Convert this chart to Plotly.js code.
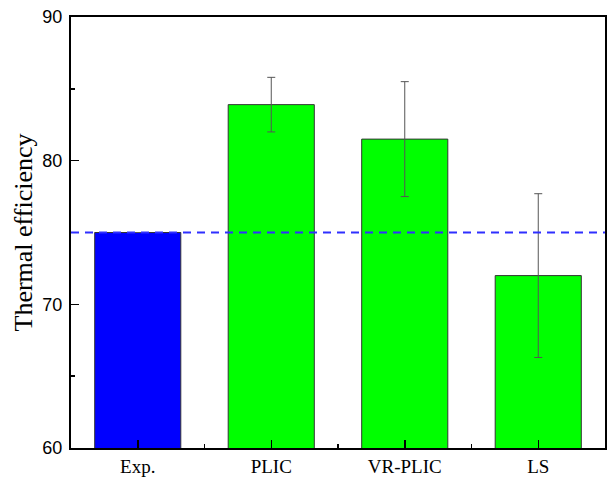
<!DOCTYPE html>
<html>
<head>
<meta charset="utf-8">
<script src="https://cdn.plot.ly/plotly-3.0.1.min.js"></script>
<style>
  html, body { margin: 0; padding: 0; background: #fff; }
  #chart { width: 607px; height: 480px; }
</style>
</head>
<body>
<div id="chart"></div>
<script>
// Thermal efficiency per method, with error ranges
const categories = ['Exp.', 'PLIC', 'VR-PLIC', 'LS'];
const efficiency = [75.0, 83.9, 81.5, 72.0];
const errorRange = [0, 1.9, 4.0, 5.7];
const barColors = ['#0000ff', '#00ff00', '#00ff00', '#00ff00'];
const yTickLabels = ['60', '70', '80', '90'];

const positions = categories.map((_, i) => i);
const hasError = errorRange.map(e => e > 0);

const bars = {
  type: 'bar',
  x: positions,
  y: efficiency,
  width: 0.645,
  marker: { color: barColors, line: { color: '#333333', width: 1 } },
  error_y: {
    type: 'data',
    array: errorRange.map((e, i) => hasError[i] ? e : null),
    visible: true,
    color: '#555555',
    thickness: 1,
    width: 4
  },
  hoverinfo: 'x+y'
};

const layout = {
  width: 607,
  height: 480,
  margin: { l: 71, r: 2, t: 17, b: 32 },
  paper_bgcolor: '#ffffff',
  plot_bgcolor: '#ffffff',
  showlegend: false,
  xaxis: {
    type: 'linear',
    range: [-0.5, 3.5],
    tickmode: 'array',
    tickvals: positions,
    ticktext: categories,
    ticks: 'inside',
    ticklen: 8,
    tickwidth: 1.5,
    tickcolor: '#000',
    showgrid: false,
    zeroline: false,
    showline: true,
    linecolor: '#000',
    linewidth: 2,
    mirror: true,
    tickfont: { family: 'Liberation Serif, Times New Roman, serif', size: 19, color: '#000' },
    minor: {
      tickmode: 'array',
      tickvals: positions.slice(1).map(p => p - 0.5),
      ticks: 'inside',
      ticklen: 4,
      tickwidth: 1.5,
      tickcolor: '#000',
      showgrid: false
    }
  },
  yaxis: {
    range: [60, 90],
    tickmode: 'array',
    tickvals: yTickLabels.map(Number),
    ticktext: yTickLabels,
    ticks: 'inside',
    ticklen: 8,
    tickwidth: 1.5,
    tickcolor: '#000',
    ticklabelstandoff: 3,
    showgrid: false,
    zeroline: false,
    showline: true,
    linecolor: '#000',
    linewidth: 2,
    mirror: true,
    tickfont: { family: 'Liberation Sans, Arial, sans-serif', size: 18, color: '#000' },
    minor: {
      dtick: 5,
      tick0: 60,
      ticks: 'inside',
      ticklen: 4,
      tickwidth: 1.5,
      tickcolor: '#000',
      showgrid: false
    },
    title: {
      text: 'Thermal efficiency',
      font: { family: 'Liberation Serif, Times New Roman, serif', size: 26, color: '#000' },
      standoff: 2
    }
  },
  shapes: [{
    type: 'line',
    xref: 'paper',
    yref: 'y',
    x0: 0,
    x1: 1,
    y0: efficiency[0],
    y1: efficiency[0],
    line: { color: '#2f2fff', width: 2, dash: '8px,6px' },
    layer: 'above'
  }]
};

Plotly.newPlot('chart', [bars], layout, { displayModeBar: false, staticPlot: true });
</script>
</body>
</html>
